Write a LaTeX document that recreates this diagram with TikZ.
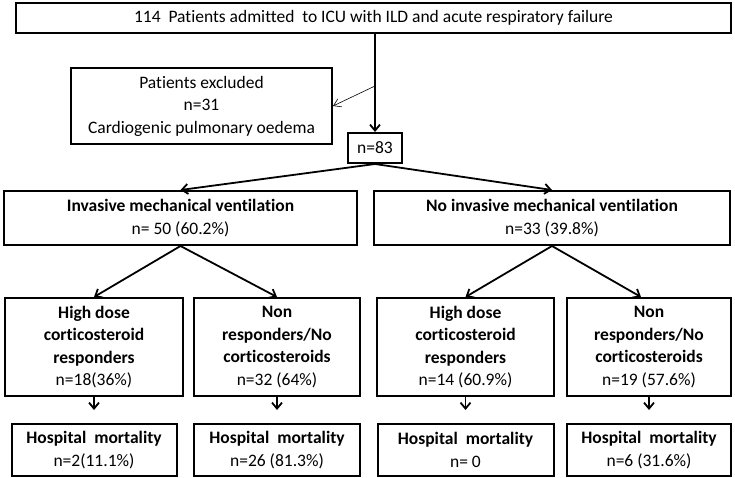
\documentclass[tikz,border=0pt]{standalone}
\usepackage{fontspec}
\setmainfont{Carlito}[Ligatures=NoCommon]
\usetikzlibrary{arrows.meta, positioning}

\begin{document}
\begin{tikzpicture}[x=1pt, y=-1pt,
    box/.style={draw, line width=2pt, inner sep=2pt, align=center,
                font=\fontsize{17.5}{22.5}\selectfont},
    flow/.style={line width=1.8pt, -{Straight Barb[length=6pt, width=10pt]}},
    side/.style={line width=0.6pt, -{Straight Barb[length=7pt, width=9pt]}}
]
    \useasboundingbox (0,0) rectangle (735,478);

    \node[box, minimum width=715pt, minimum height=30pt] (top) at (373.5,18)
        {114\ \ Patients admitted\ \ to ICU with ILD and acute respiratory failure};
    \node[box, minimum width=261pt, minimum height=76pt] (excl) at (201.5,106) {
        Patients excluded\\
        n=31\\
        Cardiogenic pulmonary oedema
    };
    \node[box, minimum width=54pt, minimum height=30pt] (n83) at (375,148) {n=83};

    \node[box, minimum width=353pt, minimum height=54pt] (imv) at (180.5,218) {
        \textbf{Invasive mechanical ventilation}\\
        n= 50 (60.2\%)
    };
    \node[box, minimum width=356pt, minimum height=54pt] (nimv) at (552,218) {
        \textbf{No invasive mechanical ventilation}\\
        n=33 (39.8\%)
    };

    \node[box, minimum width=178pt, minimum height=98pt] (b1) at (94,347) {
        \textbf{High dose}\\ \textbf{corticosteroid}\\ \textbf{responders}\\
        n=18(36\%)
    };
    \node[box, minimum width=166pt, minimum height=98pt] (b2) at (277,347) {
        \textbf{Non}\\ \textbf{responders/No}\\ \textbf{corticosteroids}\\
        n=32 (64\%)
    };
    \node[box, minimum width=177pt, minimum height=98pt] (b3) at (465.5,347) {
        \textbf{High dose}\\ \textbf{corticosteroid}\\ \textbf{responders}\\
        n=14 (60.9\%)
    };
    \node[box, minimum width=164pt, minimum height=98pt] (b4) at (649,347) {
        \textbf{Non}\\ \textbf{responders/No}\\ \textbf{corticosteroids}\\
        n=19 (57.6\%)
    };

    \node[box, minimum width=165pt, minimum height=52pt, below=26pt of b1] (m1) {
        \textbf{Hospital\ \ mortality}\\ n=2(11.1\%)
    };
    \node[box, minimum width=166pt, minimum height=52pt, below=26pt of b2] (m2) {
        \textbf{Hospital\ \ mortality}\\ n=26 (81.3\%)
    };
    \node[box, minimum width=176pt, minimum height=52pt, below=26pt of b3] (m3) {
        \textbf{Hospital\ \ mortality}\\ n= 0
    };
    \node[box, minimum width=164pt, minimum height=52pt, below=26pt of b4] (m4) {
        \textbf{Hospital\ \ mortality}\\ n=6 (31.6\%)
    };

    \coordinate (split) at (375,86);
    \draw[flow] (n83.north |- top.south) -- (n83.north);
    \draw[side] (split) -- (excl.east);
    \draw[flow] (n83.south) -- (imv.north);
    \draw[flow] (n83.south) -- (nimv.north);
    \draw[flow] (imv.south) -- (b1.north);
    \draw[flow] (imv.south) -- (b2.north);
    \draw[flow] (nimv.south) -- (b3.north);
    \draw[flow] (nimv.south) -- ([xshift=-8pt]b4.north);
    \foreach \i in {1,...,4}
        \draw[flow, shorten >=13pt] (b\i.south) -- (m\i.north);
\end{tikzpicture}
\end{document}
